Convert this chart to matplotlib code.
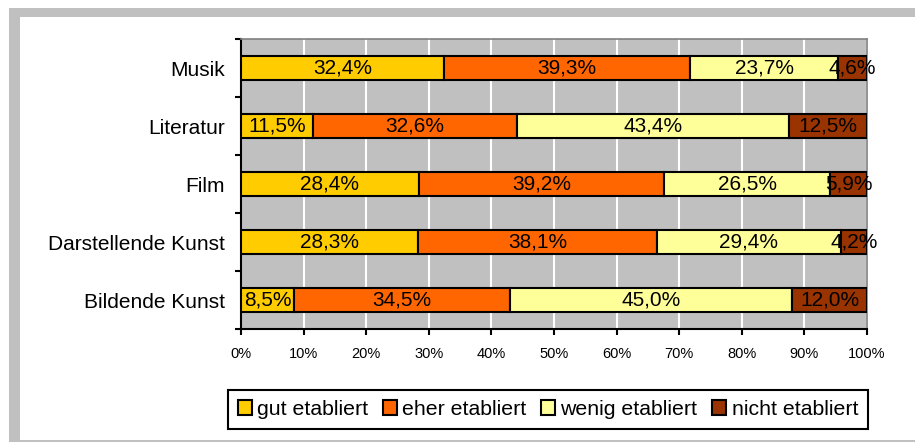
import matplotlib
matplotlib.use("Agg")
import matplotlib.pyplot as plt
from matplotlib.patches import Rectangle

# data, top to bottom as in the chart
categories = ["Musik", "Literatur", "Film", "Darstellende Kunst", "Bildende Kunst"]
series_names = ["gut etabliert", "eher etabliert", "wenig etabliert", "nicht etabliert"]
gut = [32.4, 11.5, 28.4, 28.3, 8.5]
eher = [39.3, 32.6, 39.2, 38.1, 34.5]
wenig = [23.7, 43.4, 26.5, 29.4, 45.0]
nicht = [4.6, 12.5, 5.9, 4.2, 12.0]
colors = ["#FFCC00", "#FF6600", "#FFFF99", "#993300"]
x_ticks = [0, 10, 20, 30, 40, 50, 60, 70, 80, 90, 100]

plt.rcParams["font.family"] = ["Liberation Sans", "DejaVu Sans"]

W, H = 915, 442
fig = plt.figure(figsize=(W / 100, H / 100), dpi=100)

# gray frame round the whole thing
fig.patches.append(Rectangle((9 / W, 0), 1, 1 - 8 / H, transform=fig.transFigure,
                             facecolor="#C0C0C0", edgecolor="none", zorder=-2))
fig.patches.append(Rectangle((20 / W, 2 / H), 1, 1 - 17 / H - 2 / H, transform=fig.transFigure,
                             facecolor="white", edgecolor="none", zorder=-1))

ax = fig.add_axes([241 / W, 1 - 329 / H, (867 - 241) / W, (329 - 39) / H])
ax.set_facecolor("#C0C0C0")

ypos = list(range(len(categories) - 1, -1, -1))
series = [gut, eher, wenig, nicht]
left = [0.0] * len(categories)
for name, vals, col in zip(series_names, series, colors):
    bars = ax.barh(ypos, vals, left=left, height=0.4, color=col, edgecolor="black",
                   linewidth=1.5, label=name, zorder=3)
    for b, v, l in zip(bars, vals, left):
        ax.text(l + v / 2, b.get_y() + b.get_height() / 2, f"{v:.1f}%".replace(".", ","),
                ha="center", va="center", fontsize=15, color="black", zorder=4)
    left = [a + b for a, b in zip(left, vals)]

ax.set_xlim(0, 100)
ax.set_ylim(-0.5, len(categories) - 0.5)
ax.set_xticks(x_ticks)
ax.set_xticklabels([f"{t}%" for t in x_ticks], fontsize=10.5)
ax.xaxis.grid(True, color="white", linewidth=1.5, zorder=1)
ax.set_axisbelow(True)

# category separators as ticks, labels on minor ticks at bar centres
ax.set_yticks([i - 0.5 for i in range(len(categories) + 1)])
ax.set_yticklabels([])
ax.set_yticks(ypos, minor=True)
ax.set_yticklabels(categories, minor=True, fontsize=15)
ax.tick_params(axis="y", which="major", length=4.5, width=1.5, direction="out")
ax.tick_params(axis="y", which="minor", length=0, pad=11.5)
ax.tick_params(axis="x", length=4, width=1.5, pad=9)

for s in ["left", "bottom"]:
    ax.spines[s].set_color("black")
    ax.spines[s].set_linewidth(1.5)
for s in ["top", "right"]:
    ax.spines[s].set_color("#808080")
    ax.spines[s].set_linewidth(1.2)

leg = fig.legend(loc="center", bbox_to_anchor=(548 / W, 1 - 409.5 / H), ncol=4,
                 fontsize=15.3, frameon=True, fancybox=False, shadow=False, framealpha=1,
                 handlelength=0.65, handleheight=0.65, handletextpad=0.25,
                 columnspacing=0.7, borderpad=0.45, borderaxespad=0)
leg.get_frame().set_edgecolor("black")
leg.get_frame().set_linewidth(1.5)
for h in leg.legend_handles:
    h.set_linewidth(1.5)

fig.savefig("out.png", dpi=100)
